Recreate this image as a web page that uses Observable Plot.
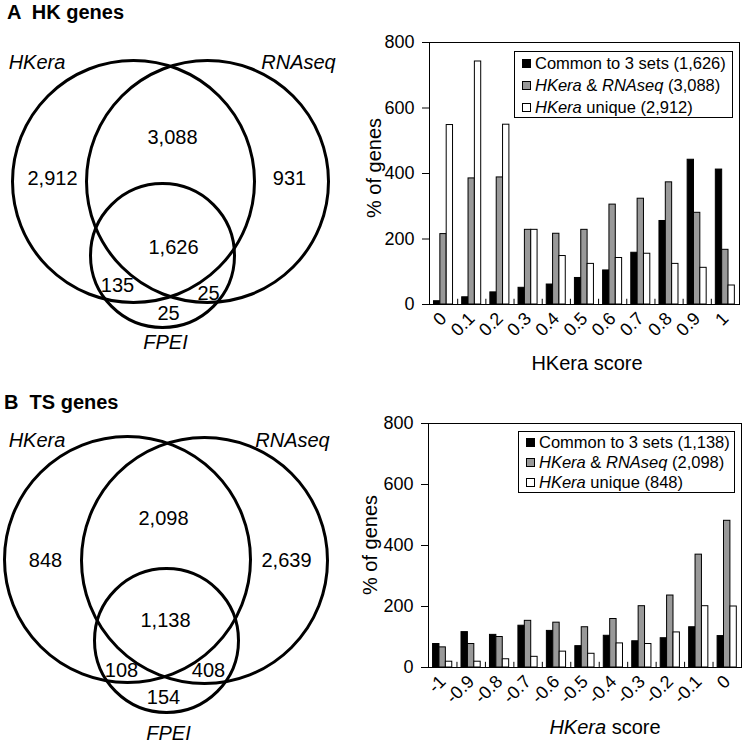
<!DOCTYPE html>
<html><head><meta charset="utf-8">
<script src="https://cdn.jsdelivr.net/npm/d3@7"></script>
<script src="https://cdn.jsdelivr.net/npm/@observablehq/plot@0.6"></script>
<style>
body{margin:0;background:#fff;}
#root{position:relative;width:746px;height:744px;font-family:"Liberation Sans",Arial,sans-serif;color:#000;overflow:hidden;background:#fff}
.abs{position:absolute;}
.ptitle{font-weight:bold;font-size:20px;white-space:pre;line-height:1;}
.atitle{font-size:20px;white-space:nowrap;line-height:1;transform:translate(-50%,-50%);}
.ylab{transform:translate(-50%,-50%) rotate(-90deg);}
.legend{border:1px solid #000;background:#fff;font-size:16.5px;box-sizing:border-box;white-space:nowrap;}
.legend .row{display:flex;align-items:center;}
.legend .sw{display:inline-block;width:9px;height:9px;border:1px solid #000;box-sizing:border-box;margin-right:4px;}
</style>
</head><body>
<div id="root"></div>
<script>
// ---------- data ----------
const setNames = ["HKera", "RNAseq", "FPEI"];
const hkRegionCounts = ["2,912", "3,088", "931", "1,626", "135", "25", "25"];
const tsRegionCounts = ["848", "2,098", "2,639", "1,138", "108", "408", "154"];

const hkScores = ["0","0.1","0.2","0.3","0.4","0.5","0.6","0.7","0.8","0.9","1"];
const hkCommon = [10, 22, 37, 51, 61, 81, 104, 158, 255, 442, 412];
const hkShared = [215, 385, 388, 228, 216, 228, 305, 323, 373, 280, 167];
const hkUnique = [548, 742, 549, 228, 148, 124, 142, 155, 124, 112, 58];

const tsScores = ["-1","-0.9","-0.8","-0.7","-0.6","-0.5","-0.4","-0.3","-0.2","-0.1","0"];
const tsCommon = [77, 116, 107, 137, 120, 70, 104, 86, 96, 132, 103];
const tsShared = [66, 77, 100, 153, 147, 132, 159, 201, 236, 370, 481];
const tsUnique = [19, 19, 27, 35, 52, 45, 79, 77, 115, 201, 200];

const yTicks = [0, 200, 400, 600, 800];
const seriesKeys = ["common", "shared", "unique"];
const hkLegendCounts = ["1,626", "3,088", "2,912"];
const tsLegendCounts = ["1,138", "2,098", "848"];

// ---------- layout ----------
const FONT = '"Liberation Sans", Arial, sans-serif';
const root = document.getElementById("root");
function place(el, left, top) { el.style.position = "absolute"; el.style.left = left + "px"; el.style.top = top + "px"; root.appendChild(el); return el; }
function div(cls, html) { const d = document.createElement("div"); d.className = cls; d.innerHTML = html; return d; }

// Venn geometry (pixel layout, not data)
const vennCircles = [
  {set: setNames[0], cx: 133, cy: 181, r: 121},
  {set: setNames[1], cx: 207, cy: 181, r: 121},
  {set: setNames[2], cx: 162, cy: 255, r: 72},
  {set: setNames[0], cx: 127, cy: 559, r: 123},
  {set: setNames[1], cx: 204, cy: 560, r: 123},
  {set: setNames[2], cx: 166, cy: 640, r: 72}
];
const hkRegionPos = [[52,178],[172,137],[289,178],[173,247],[117,285],[208,293],[168,313]];
const tsRegionPos = [[45,560],[163,518],[286,560],[165,620],[121,670],[208,670],[163,697]];
const hkSetPos = [[36.5,62],[298,62],[165,342]];
const tsSetPos = [[36.5,440],[292,440],[168,733]];

const countLabels = [
  ...hkRegionCounts.map((t, i) => ({t, x: hkRegionPos[i][0], y: hkRegionPos[i][1]})),
  ...tsRegionCounts.map((t, i) => ({t, x: tsRegionPos[i][0], y: tsRegionPos[i][1]}))
];
const setLabels = [
  ...setNames.map((t, i) => ({t, x: hkSetPos[i][0], y: hkSetPos[i][1]})),
  ...setNames.map((t, i) => ({t, x: tsSetPos[i][0], y: tsSetPos[i][1]}))
];

const venn = Plot.plot({
  width: 360, height: 744,
  marginTop: 0, marginBottom: 0, marginLeft: 0, marginRight: 0,
  style: {fontFamily: FONT, background: "transparent"},
  x: {domain: [0, 360], range: [0, 360], axis: null},
  y: {domain: [0, 744], range: [0, 744], axis: null},
  r: {type: "identity"},
  marks: [
    Plot.dot(vennCircles, {x: "cx", y: "cy", r: "r", stroke: "black", strokeWidth: 3, fill: "none"}),
    Plot.text(countLabels, {x: "x", y: "y", text: "t", fontSize: 20, fill: "black"}),
    Plot.text(setLabels, {x: "x", y: "y", text: "t", fontSize: 20, fontStyle: "italic", fill: "black"})
  ]
});
place(venn, 0, 0);

function barChart(scores, common, shared, unique, m) {
  const rows = [];
  [common, shared, unique].forEach((vals, k) => vals.forEach((v, i) => rows.push({i, k, v, s: seriesKeys[k]})));
  const bw = 0.225, off = -0.34;
  return Plot.plot({
    width: 386, height: m.height,
    marginLeft: m.left, marginRight: m.right, marginTop: m.top, marginBottom: m.bottom,
    style: {fontFamily: FONT, fontSize: "18px", background: "transparent", color: "black"},
    x: {domain: [-0.5, scores.length - 0.5], axis: null},
    y: {domain: [0, 800], axis: null},
    color: {domain: seriesKeys, range: ["#000000", "#999999", "#ffffff"]},
    marks: [
      Plot.rect(rows, {x1: d => d.i + off + d.k * bw, x2: d => d.i + off + (d.k + 1) * bw, y1: 0, y2: "v", fill: "s", stroke: "black", strokeWidth: 1}),
      Plot.ruleX(d3.range(scores.length - 1).map(i => i + 0.5), {y1: 0, y2: m.tickLen, stroke: "black"}),
      Plot.axisY({ticks: yTicks, tickSize: 7, tickPadding: 8, label: null, tickFormat: d => String(d), fontSize: 18}),
      Plot.axisX({ticks: d3.range(scores.length), tickFormat: i => scores[i], tickSize: 0, tickPadding: 11, tickRotate: -45, label: null, fontSize: 18}),
      Plot.frame({stroke: "black"})
    ]
  });
}

place(barChart(hkScores, hkCommon, hkShared, hkUnique, {height: 370, left: 69, right: 7, top: 42, bottom: 66, tickLen: 16}), 360, 0);
place(barChart(tsScores, tsCommon, tsShared, tsUnique, {height: 369, left: 68, right: 5, top: 48, bottom: 77, tickLen: 17}), 360, 375);

// panel titles
place(div("ptitle", "A  HK genes"), 7, 2);
place(div("ptitle", "B  TS genes"), 4, 392);

// axis titles
place(div("abs atitle ylab", "% of genes"), 374, 168);
place(div("abs atitle", "HKera score"), 587, 363);
place(div("abs atitle ylab", "% of genes"), 370, 545);
place(div("abs atitle", "<i>HKera</i> score"), 605, 727);

// legends
function legend(counts, left, top, w, h, lh) {
  const fills = ["#000000", "#999999", "#ffffff"];
  const names = ["Common to 3 sets", "<i>HKera</i> &amp; <i>RNAseq</i>", "<i>HKera</i> unique"];
  const d = div("legend", names.map((n, k) =>
    `<div class="row" style="height:${lh}px"><span class="sw" style="background:${fills[k]}"></span><span>${n} (${counts[k]})</span></div>`).join(""));
  d.style.width = w + "px"; d.style.height = h + "px"; d.style.padding = "0 0 0 7px";
  return place(d, left, top);
}
legend(hkLegendCounts, 514, 51, 219, 67, 22);
legend(tsLegendCounts, 518, 431, 217, 62, 20);
</script>
</body></html>
